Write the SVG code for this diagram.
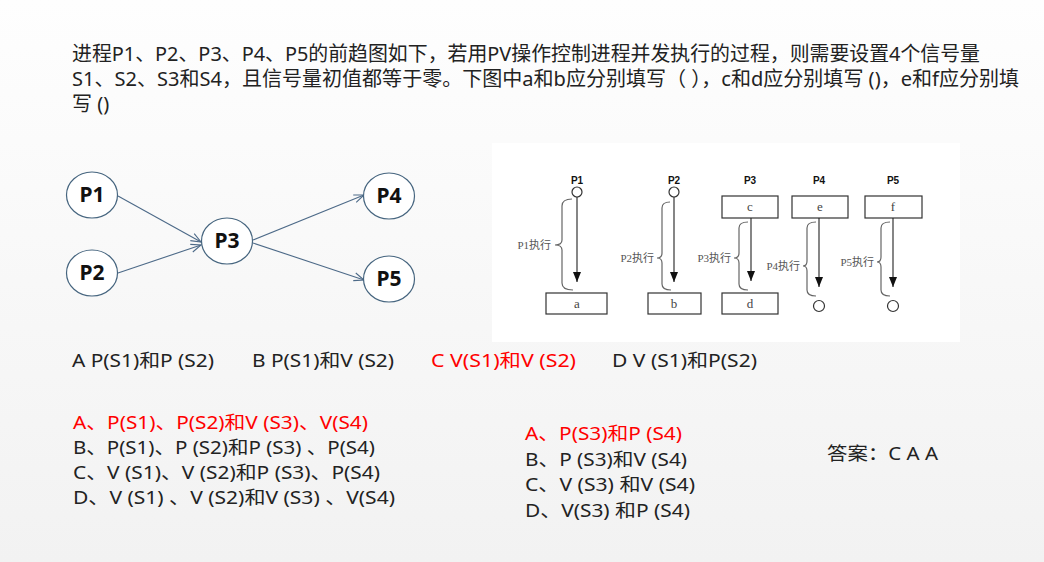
<svg xmlns="http://www.w3.org/2000/svg" width="1044" height="562" viewBox="0 0 1044 562">
<defs>
<linearGradient id="bg" x1="0" y1="0" x2="0" y2="1">
<stop offset="0" stop-color="#fefefe"/>
<stop offset="1" stop-color="#f2f2f2"/>
</linearGradient>
<marker id="open" viewBox="0 0 12 10" refX="11" refY="5" markerWidth="12" markerHeight="10" markerUnits="userSpaceOnUse" orient="auto">
<path d="M1,1 L11,5 L1,9" fill="none" stroke="#4d6a88" stroke-width="1.1"/>
</marker>
<marker id="tri" viewBox="0 0 8 10" refX="4" refY="10" markerWidth="8" markerHeight="10" markerUnits="userSpaceOnUse" orient="auto-start-reverse">
<path d="M0,0 L8,0 L4,10 Z" fill="#111"/>
</marker>
<marker id="tri2" viewBox="0 0 10 8" refX="10" refY="4" markerWidth="10" markerHeight="8" markerUnits="userSpaceOnUse" orient="auto">
<path d="M0,0 L10,4 L0,8 Z" fill="#111"/>
</marker>
</defs>
<style>
.t{font-family:"Noto Sans","Noto Sans CJK SC",sans-serif;font-size:20px;fill:#222}
.o{font-family:"Noto Sans","Noto Sans CJK SC",sans-serif;font-size:18.5px;fill:#222}
.red{fill:#ff0000}
.node ellipse{fill:#fff;stroke:#46657f;stroke-width:1.2}
.node text{font-family:"Noto Sans","Liberation Sans",sans-serif;font-weight:bold;font-size:21px;fill:#111;text-anchor:middle}
.edge{stroke:#4d6a88;stroke-width:1.1;fill:none}
.ins rect{fill:#fff;stroke:#333;stroke-width:1.2}
.ins circle{fill:#fff;stroke:#333;stroke-width:1.2}
.vl{stroke:#222;stroke-width:1.1;fill:none}
.br{stroke:#666;stroke-width:1.2;fill:none}
.pl{font-family:"Liberation Sans",sans-serif;font-weight:bold;font-size:10px;fill:#111;text-anchor:middle}
.bl{font-family:"Liberation Serif",serif;font-size:13px;fill:#444;text-anchor:middle}
.el{font-family:"Liberation Serif","Noto Sans CJK SC",serif;font-size:11px;fill:#555;text-anchor:end}
</style>
<rect x="0" y="0" width="1044" height="562" fill="url(#bg)"/>

<g id="question">
<text class="t" x="72" y="61" textLength="908" lengthAdjust="spacingAndGlyphs">进程P1、P2、P3、P4、P5的前趋图如下，若用PV操作控制进程并发执行的过程，则需要设置4个信号量</text>
<text class="t" x="72" y="86" textLength="947" lengthAdjust="spacingAndGlyphs">S1、S2、S3和S4，且信号量初值都等于零。下图中a和b应分别填写（  ），c和d应分别填写 ()，e和f应分别填</text>
<text class="t" x="72" y="111">写 ()</text>
</g>

<g id="connectors">
<line class="edge" x1="118" y1="196" x2="201" y2="242" marker-end="url(#open)"/>
<line class="edge" x1="118" y1="273" x2="201" y2="245" marker-end="url(#open)"/>
<line class="edge" x1="253" y1="240" x2="364" y2="195" marker-end="url(#open)"/>
<line class="edge" x1="253" y1="243" x2="364" y2="280" marker-end="url(#open)"/>
</g>
<g id="P1" class="node"><ellipse cx="92" cy="195" rx="25.5" ry="23"/><text x="92" y="202">P1</text></g>
<g id="P2" class="node"><ellipse cx="92" cy="273" rx="25.5" ry="23"/><text x="92" y="280">P2</text></g>
<g id="P3" class="node"><ellipse cx="227" cy="241" rx="25.5" ry="23"/><text x="227" y="248">P3</text></g>
<g id="P4" class="node"><ellipse cx="389" cy="196" rx="25.5" ry="23"/><text x="389" y="203">P4</text></g>
<g id="P5" class="node"><ellipse cx="389" cy="279" rx="25.5" ry="23"/><text x="389" y="286">P5</text></g>

<g id="inset" class="ins">
<rect x="492" y="143" width="468" height="199" style="fill:#fff;stroke:none"/>
<text class="pl" x="577" y="184">P1</text>
<text class="pl" x="674" y="184">P2</text>
<text class="pl" x="750" y="184">P3</text>
<text class="pl" x="819" y="184">P4</text>
<text class="pl" x="893" y="184">P5</text>
<circle cx="577" cy="192" r="5"/>
<circle cx="674" cy="192" r="5"/>
<rect x="722" y="196" width="56" height="22"/>
<rect x="792" y="196" width="56" height="22"/>
<rect x="865" y="196" width="57" height="22"/>
<text class="bl" x="750" y="211">c</text>
<text class="bl" x="820" y="211">e</text>
<text class="bl" x="893" y="211">f</text>
<line class="vl" x1="577" y1="197" x2="577" y2="282" marker-end="url(#tri2)"/>
<line class="vl" x1="674" y1="197" x2="674" y2="282" marker-end="url(#tri2)"/>
<line class="vl" x1="751" y1="218" x2="751" y2="281" marker-end="url(#tri2)"/>
<line class="vl" x1="819" y1="218" x2="819" y2="287" marker-end="url(#tri2)"/>
<line class="vl" x1="893" y1="218" x2="893" y2="287" marker-end="url(#tri2)"/>
<rect x="546" y="293" width="61" height="21"/>
<rect x="648" y="293" width="53" height="21"/>
<rect x="722" y="293" width="56" height="21"/>
<text class="bl" x="577" y="308">a</text>
<text class="bl" x="674" y="308">b</text>
<text class="bl" x="750" y="308">d</text>
<circle cx="819" cy="306" r="5.5"/>
<circle cx="893" cy="306" r="5.5"/>
<path class="br" d="M572,199 Q562,199 562,206 L562,240 Q562,245 555,245 Q562,245 562,250 L562,283 Q562,290 573,290"/>
<path class="br" d="M670,202 Q662,202 662,208 L662,253 Q662,258 657,258 Q662,258 662,263 L662,284 Q662,290 671,290"/>
<path class="br" d="M748,222 Q739,222 739,228 L739,253 Q739,258 734,258 Q739,258 739,263 L739,284 Q739,290 748,290"/>
<path class="br" d="M816,222 Q807,222 807,228 L807,261 Q807,266 803,266 Q807,266 807,271 L807,290 Q807,296 816,296"/>
<path class="br" d="M890,222 Q881,222 881,228 L881,257 Q881,262 877,262 Q881,262 881,267 L881,290 Q881,296 890,296"/>
<text class="el" x="551" y="249">P1执行</text>
<text class="el" x="654" y="262">P2执行</text>
<text class="el" x="731" y="262">P3执行</text>
<text class="el" x="800" y="270">P4执行</text>
<text class="el" x="874" y="266">P5执行</text>
</g>

<g id="options1">
<text class="o" x="72" y="367" textLength="142" lengthAdjust="spacingAndGlyphs">A P(S1)和P (S2)</text>
<text class="o" x="252" y="367" textLength="142" lengthAdjust="spacingAndGlyphs">B P(S1)和V (S2)</text>
<text class="o red" x="431" y="367" textLength="145" lengthAdjust="spacingAndGlyphs">C V(S1)和V (S2)</text>
<text class="o" x="612" y="367" textLength="145" lengthAdjust="spacingAndGlyphs">D V (S1)和P(S2)</text>
</g>
<g id="options2">
<text class="o red" x="73" y="429" textLength="295" lengthAdjust="spacingAndGlyphs">A、P(S1)、P(S2)和V (S3)、V(S4)</text>
<text class="o" x="73" y="454" textLength="302" lengthAdjust="spacingAndGlyphs">B、P(S1)、P (S2)和P (S3) 、P(S4)</text>
<text class="o" x="73" y="479" textLength="307" lengthAdjust="spacingAndGlyphs">C、V (S1)、V (S2)和P (S3)、P(S4)</text>
<text class="o" x="73" y="504" textLength="322" lengthAdjust="spacingAndGlyphs">D、V (S1) 、V (S2)和V (S3) 、V(S4)</text>
</g>
<g id="options3">
<text class="o red" x="525" y="440" textLength="157" lengthAdjust="spacingAndGlyphs">A、P(S3)和P (S4)</text>
<text class="o" x="525" y="466" textLength="162" lengthAdjust="spacingAndGlyphs">B、P (S3)和V (S4)</text>
<text class="o" x="525" y="491" textLength="170" lengthAdjust="spacingAndGlyphs">C、V (S3) 和V (S4)</text>
<text class="o" x="525" y="517" textLength="165" lengthAdjust="spacingAndGlyphs">D、V(S3) 和P (S4)</text>
</g>
<g id="answer">
<text class="o" x="827" y="460" textLength="111" lengthAdjust="spacingAndGlyphs">答案：C A A</text>
</g>
</svg>
